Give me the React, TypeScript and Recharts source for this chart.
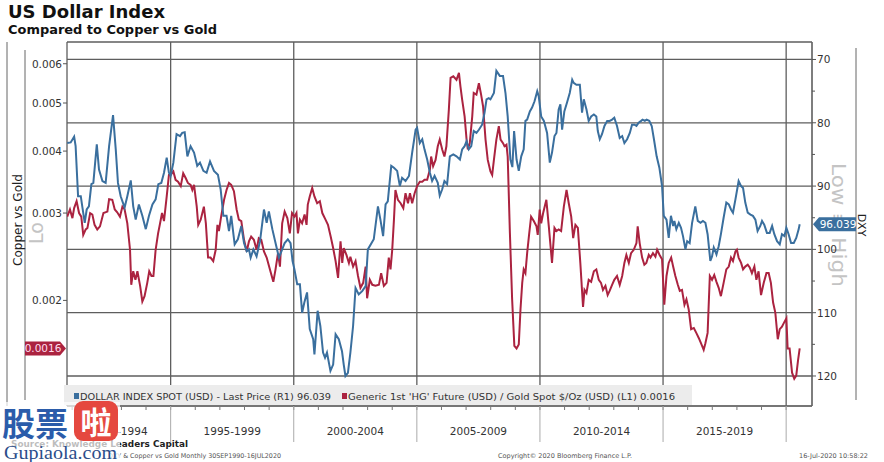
import React from 'react';
import { LineChart, Line, XAxis, YAxis, CartesianGrid } from 'recharts';

const FONT = "'DejaVu Sans', Verdana, sans-serif";
const BLUE = '#3a6f9e';
const RED = '#ab2340';
const LEFT_W = 67;

// ---- DXY (right axis, inverted) ----
const dxyDates = [
  1990.80, 1990.94, 1991.08, 1991.14, 1991.24, 1991.35, 1991.41, 1991.51, 1991.59, 1991.68, 1991.78, 1991.86,
  1992.00, 1992.09, 1992.23, 1992.36, 1992.50, 1992.66, 1992.77, 1992.86, 1992.97, 1993.13, 1993.24, 1993.38,
  1993.48, 1993.58, 1993.71, 1993.85, 1993.99, 1994.12, 1994.26, 1994.39, 1994.50, 1994.62, 1994.73, 1994.84,
  1994.93, 1995.00, 1995.11, 1995.24, 1995.38, 1995.47, 1995.57, 1995.68, 1995.81, 1995.95, 1996.08, 1996.19,
  1996.33, 1996.46, 1996.60, 1996.76, 1996.92, 1997.03, 1997.14, 1997.27, 1997.37, 1997.46, 1997.60, 1997.73,
  1997.87, 1997.98, 1998.09, 1998.18, 1998.25, 1998.36, 1998.49, 1998.63, 1998.79, 1998.90, 1998.99, 1999.13,
  1999.26, 1999.40, 1999.53, 1999.63, 1999.76, 1999.87, 1999.95, 2000.03, 2000.14, 2000.25, 2000.34, 2000.43,
  2000.54, 2000.65, 2000.79, 2000.84, 2000.97, 2001.08, 2001.19, 2001.27, 2001.35, 2001.49, 2001.60, 2001.70,
  2001.83, 2001.96, 2002.03, 2002.10, 2002.20, 2002.30, 2002.41, 2002.51, 2002.64, 2002.78, 2002.92, 2003.01,
  2003.25, 2003.42, 2003.52, 2003.63, 2003.73, 2003.82, 2003.96, 2004.07, 2004.20, 2004.31, 2004.40, 2004.54,
  2004.68, 2004.81, 2004.95, 2005.01, 2005.12, 2005.22, 2005.31, 2005.42, 2005.53, 2005.62, 2005.72, 2005.85,
  2005.93, 2006.03, 2006.12, 2006.23, 2006.34, 2006.48, 2006.61, 2006.75, 2006.84, 2006.94, 2007.02, 2007.11,
  2007.21, 2007.31, 2007.42, 2007.52, 2007.65, 2007.75, 2007.83, 2007.92, 2007.99, 2008.13, 2008.23, 2008.37,
  2008.50, 2008.60, 2008.69, 2008.80, 2008.88, 2008.95, 2009.05, 2009.14, 2009.24, 2009.34, 2009.41, 2009.48,
  2009.59, 2009.68, 2009.78, 2009.89, 2009.95, 2010.05, 2010.16, 2010.29, 2010.40, 2010.49, 2010.59, 2010.67,
  2010.76, 2010.83, 2010.90, 2010.99, 2011.10, 2011.21, 2011.31, 2011.37, 2011.48, 2011.62, 2011.71, 2011.78,
  2011.89, 2011.98, 2012.08, 2012.19, 2012.29, 2012.35, 2012.43, 2012.52, 2012.62, 2012.73, 2012.83, 2012.93,
  2013.02, 2013.13, 2013.24, 2013.34, 2013.43, 2013.54, 2013.65, 2013.74, 2013.84, 2013.92, 2014.01, 2014.11,
  2014.17, 2014.26, 2014.33, 2014.44, 2014.54, 2014.63, 2014.74, 2014.85, 2014.96, 2015.03, 2015.14, 2015.23,
  2015.32, 2015.41, 2015.46, 2015.54, 2015.64, 2015.73, 2015.81, 2015.91, 2015.98, 2016.08, 2016.18, 2016.31,
  2016.41, 2016.52, 2016.62, 2016.72, 2016.81, 2016.92, 2016.99, 2017.06, 2017.17, 2017.26, 2017.35, 2017.46,
  2017.57, 2017.67, 2017.76, 2017.84, 2017.94, 2018.07, 2018.17, 2018.25, 2018.34, 2018.44, 2018.55, 2018.65,
  2018.75, 2018.84, 2018.95, 2019.02, 2019.11, 2019.22, 2019.33, 2019.43, 2019.52, 2019.63, 2019.74, 2019.83,
  2019.93, 2020.01, 2020.10, 2020.20, 2020.31, 2020.41, 2020.51, 2020.55,
];
const dxyValues = [
  83.2, 83.1, 82.2, 83.7, 91.6, 91.6, 93.2, 95.8, 93.7, 93.2, 89.7, 89.5,
  83.4, 87.4, 89.2, 89.5, 83.7, 78.8, 84.2, 89.5, 91.6, 93.4, 91.6, 89.1,
  93.2, 95.3, 92.9, 94.7, 96.8, 94.7, 92.9, 92.1, 89.7, 89.5, 87.9, 85.5,
  87.9, 88.4, 86.3, 81.8, 82.1, 81.6, 81.5, 85.3, 83.7, 84.7, 86.8, 86.3,
  87.6, 87.9, 86.1, 87.6, 88.2, 90.5, 94.7, 94.7, 97.1, 94.7, 99.2, 98.4,
  96.3, 99.0, 100.3, 100.0, 101.3, 100.0, 101.1, 98.7, 93.7, 95.8, 94.0, 96.8,
  99.0, 101.3, 100.0, 99.0, 98.4, 99.0, 101.8, 103.2, 105.5, 105.5, 110.0, 108.4,
  106.8, 112.6, 114.2, 116.6, 109.7, 112.1, 116.3, 117.1, 116.3, 119.2, 118.2, 113.4,
  114.2, 116.1, 118.2, 120.0, 119.5, 116.3, 112.1, 106.1, 107.1, 106.6, 105.8, 100.0,
  98.4, 93.2, 95.3, 97.9, 92.9, 92.4, 86.8, 87.1, 87.6, 90.0, 88.7, 89.2,
  88.4, 84.7, 81.1, 80.8, 83.2, 82.6, 84.2, 85.8, 87.9, 89.2, 88.4, 89.5,
  91.5, 90.5, 89.2, 89.7, 85.3, 85.0, 85.3, 85.8, 84.2, 83.7, 82.9, 84.2,
  83.7, 81.3, 81.6, 81.1, 80.3, 78.4, 76.3, 76.1, 76.3, 75.3, 71.8, 72.6,
  72.6, 75.3, 79.0, 85.8, 87.0, 81.3, 85.8, 87.6, 85.3, 84.2, 79.7, 79.5,
  78.2, 77.6, 76.6, 75.0, 75.8, 79.0, 79.7, 81.6, 86.3, 84.7, 82.1, 81.6,
  77.9, 77.1, 81.1, 78.2, 76.8, 75.3, 73.2, 73.7, 74.0, 74.0, 78.4, 76.3,
  77.9, 79.7, 79.0, 78.7, 79.0, 81.3, 82.6, 81.8, 80.5, 79.7, 79.7, 79.5,
  79.2, 80.5, 82.4, 82.1, 83.2, 82.6, 81.6, 80.3, 80.3, 80.5, 80.0, 79.7,
  79.5, 79.7, 79.5, 79.7, 80.5, 82.6, 85.3, 87.1, 90.0, 94.7, 95.3, 98.2,
  94.7, 96.3, 95.5, 96.8, 95.8, 96.6, 97.9, 100.0, 98.7, 99.0, 95.8, 93.2,
  95.5, 95.8, 95.5, 95.8, 97.6, 101.8, 101.1, 99.7, 100.8, 99.5, 97.6, 95.0,
  92.6, 92.9, 93.7, 94.2, 92.1, 89.2, 90.0, 90.3, 92.6, 94.2, 94.5, 94.7,
  95.3, 97.1, 96.3, 95.5, 96.1, 97.4, 97.4, 96.3, 97.6, 98.7, 99.2, 97.6,
  97.9, 96.6, 97.6, 99.0, 99.0, 98.2, 96.8, 96.039,
];

// ---- Copper / Gold ratio (left axis, log) ----
const cgDates = [
  1990.80, 1990.91, 1991.01, 1991.08, 1991.18, 1991.28, 1991.37, 1991.45, 1991.55, 1991.62, 1991.73, 1991.82,
  1991.91, 1992.02, 1992.13, 1992.27, 1992.43, 1992.50, 1992.63, 1992.73, 1992.83, 1992.94, 1993.04, 1993.13,
  1993.24, 1993.35, 1993.40, 1993.48, 1993.57, 1993.65, 1993.76, 1993.85, 1993.94, 1994.05, 1994.13, 1994.22,
  1994.30, 1994.39, 1994.49, 1994.57, 1994.65, 1994.73, 1994.84, 1994.93, 1995.00, 1995.11, 1995.20, 1995.30,
  1995.41, 1995.51, 1995.61, 1995.70, 1995.81, 1995.88, 1995.95, 1996.06, 1996.12, 1996.22, 1996.35, 1996.43,
  1996.52, 1996.62, 1996.73, 1996.83, 1996.90, 1996.96, 1997.05, 1997.17, 1997.27, 1997.37, 1997.46, 1997.57,
  1997.68, 1997.77, 1997.87, 1997.98, 1998.09, 1998.18, 1998.27, 1998.38, 1998.49, 1998.58, 1998.68, 1998.79,
  1998.90, 1999.03, 1999.17, 1999.26, 1999.36, 1999.44, 1999.53, 1999.63, 1999.74, 1999.84, 1999.93, 2000.03,
  2000.11, 2000.17, 2000.25, 2000.34, 2000.44, 2000.52, 2000.57, 2000.65, 2000.75, 2000.84, 2000.95, 2001.06,
  2001.16, 2001.29, 2001.39, 2001.50, 2001.60, 2001.70, 2001.80, 2001.90, 2001.97, 2002.03, 2002.14, 2002.24,
  2002.30, 2002.41, 2002.51, 2002.61, 2002.71, 2002.82, 2002.92, 2002.98, 2003.09, 2003.19, 2003.32, 2003.46,
  2003.55, 2003.66, 2003.77, 2003.86, 2003.93, 2004.00, 2004.07, 2004.13, 2004.23, 2004.34, 2004.45, 2004.54,
  2004.64, 2004.72, 2004.81, 2004.91, 2005.01, 2005.12, 2005.22, 2005.31, 2005.42, 2005.53, 2005.58, 2005.66,
  2005.76, 2005.85, 2005.93, 2006.03, 2006.12, 2006.20, 2006.30, 2006.37, 2006.48, 2006.61, 2006.71, 2006.77,
  2006.84, 2006.94, 2007.02, 2007.07, 2007.15, 2007.25, 2007.31, 2007.42, 2007.52, 2007.61, 2007.69, 2007.79,
  2007.88, 2007.99, 2008.06, 2008.13, 2008.23, 2008.33, 2008.40, 2008.50, 2008.56, 2008.64, 2008.69, 2008.78,
  2008.87, 2008.96, 2009.05, 2009.14, 2009.21, 2009.28, 2009.34, 2009.41, 2009.48, 2009.55, 2009.64, 2009.75,
  2009.86, 2009.91, 2009.99, 2010.05, 2010.13, 2010.26, 2010.36, 2010.49, 2010.59, 2010.67, 2010.76, 2010.86,
  2010.97, 2011.08, 2011.17, 2011.27, 2011.35, 2011.44, 2011.54, 2011.64, 2011.75, 2011.81, 2011.89, 2011.98,
  2012.08, 2012.19, 2012.29, 2012.39, 2012.48, 2012.56, 2012.66, 2012.75, 2012.83, 2012.93, 2013.02, 2013.13,
  2013.24, 2013.34, 2013.43, 2013.51, 2013.61, 2013.70, 2013.81, 2013.92, 2013.97, 2014.05, 2014.15, 2014.24,
  2014.32, 2014.42, 2014.49, 2014.59, 2014.69, 2014.76, 2014.86, 2014.96, 2015.05, 2015.14, 2015.23, 2015.33,
  2015.41, 2015.50, 2015.60, 2015.68, 2015.77, 2015.87, 2015.95, 2016.04, 2016.14, 2016.25, 2016.35, 2016.45,
  2016.54, 2016.65, 2016.72, 2016.81, 2016.90, 2016.99, 2017.08, 2017.17, 2017.26, 2017.35, 2017.46, 2017.57,
  2017.67, 2017.76, 2017.84, 2017.94, 2018.00, 2018.07, 2018.17, 2018.25, 2018.34, 2018.44, 2018.52, 2018.61,
  2018.71, 2018.79, 2018.88, 2018.98, 2019.09, 2019.20, 2019.29, 2019.38, 2019.47, 2019.56, 2019.66, 2019.74,
  2019.83, 2019.93, 2020.01, 2020.06, 2020.14, 2020.24, 2020.33, 2020.41, 2020.48, 2020.55,
];
const cgValues = [
  0.00295, 0.00305, 0.00293, 0.00307, 0.00317, 0.00300, 0.00295, 0.00271, 0.00278, 0.00280, 0.00300, 0.00298,
  0.00284, 0.00278, 0.00282, 0.00300, 0.00302, 0.00320, 0.00319, 0.00305, 0.00301, 0.00295, 0.00309, 0.00305,
  0.00286, 0.00253, 0.00215, 0.00229, 0.00220, 0.00229, 0.00214, 0.00199, 0.00204, 0.00217, 0.00229, 0.00224,
  0.00224, 0.00253, 0.00273, 0.00286, 0.00300, 0.00289, 0.00324, 0.00358, 0.00358, 0.00364, 0.00350, 0.00347,
  0.00340, 0.00361, 0.00353, 0.00345, 0.00342, 0.00334, 0.00342, 0.00309, 0.00284, 0.00291, 0.00309, 0.00286,
  0.00244, 0.00244, 0.00240, 0.00253, 0.00284, 0.00276, 0.00295, 0.00319, 0.00334, 0.00345, 0.00342, 0.00332,
  0.00305, 0.00291, 0.00289, 0.00265, 0.00251, 0.00263, 0.00269, 0.00265, 0.00253, 0.00267, 0.00265, 0.00251,
  0.00244, 0.00231, 0.00218, 0.00231, 0.00249, 0.00234, 0.00286, 0.00302, 0.00293, 0.00273, 0.00300, 0.00295,
  0.00300, 0.00273, 0.00291, 0.00286, 0.00298, 0.00284, 0.00312, 0.00324, 0.00337, 0.00324, 0.00314, 0.00317,
  0.00300, 0.00291, 0.00284, 0.00269, 0.00255, 0.00240, 0.00222, 0.00263, 0.00238, 0.00255, 0.00247, 0.00238,
  0.00245, 0.00234, 0.00240, 0.00224, 0.00212, 0.00217, 0.00234, 0.00202, 0.00220, 0.00215, 0.00214, 0.00215,
  0.00227, 0.00214, 0.00217, 0.00244, 0.00231, 0.00253, 0.00291, 0.00334, 0.00319, 0.00314, 0.00307, 0.00329,
  0.00314, 0.00329, 0.00314, 0.00329, 0.00340, 0.00347, 0.00347, 0.00350, 0.00350, 0.00367, 0.00390, 0.00373,
  0.00384, 0.00409, 0.00422, 0.00403, 0.00390, 0.00409, 0.00485, 0.00562, 0.00566, 0.00557, 0.00575, 0.00540,
  0.00508, 0.00470, 0.00422, 0.00403, 0.00415, 0.00470, 0.00524, 0.00520, 0.00548, 0.00520, 0.00492, 0.00422,
  0.00384, 0.00364, 0.00358, 0.00384, 0.00422, 0.00449, 0.00422, 0.00415, 0.00409, 0.00412, 0.00390, 0.00273,
  0.00201, 0.00162, 0.00160, 0.00163, 0.00192, 0.00217, 0.00231, 0.00227, 0.00249, 0.00269, 0.00295, 0.00289,
  0.00282, 0.00271, 0.00305, 0.00286, 0.00300, 0.00319, 0.00282, 0.00238, 0.00280, 0.00276, 0.00278, 0.00276,
  0.00309, 0.00334, 0.00314, 0.00295, 0.00267, 0.00284, 0.00280, 0.00238, 0.00194, 0.00210, 0.00207, 0.00220,
  0.00218, 0.00229, 0.00231, 0.00220, 0.00217, 0.00210, 0.00214, 0.00205, 0.00209, 0.00215, 0.00220, 0.00224,
  0.00215, 0.00224, 0.00238, 0.00247, 0.00238, 0.00249, 0.00253, 0.00261, 0.00282, 0.00261, 0.00244, 0.00236,
  0.00238, 0.00247, 0.00244, 0.00249, 0.00245, 0.00253, 0.00247, 0.00242, 0.00196, 0.00224, 0.00238, 0.00244,
  0.00234, 0.00224, 0.00215, 0.00209, 0.00210, 0.00196, 0.00201, 0.00192, 0.00175, 0.00176, 0.00172, 0.00168,
  0.00164, 0.00159, 0.00164, 0.00172, 0.00224, 0.00220, 0.00225, 0.00218, 0.00212, 0.00204, 0.00217, 0.00231,
  0.00234, 0.00244, 0.00240, 0.00251, 0.00253, 0.00244, 0.00238, 0.00231, 0.00234, 0.00236, 0.00233, 0.00227,
  0.00234, 0.00220, 0.00229, 0.00205, 0.00217, 0.00227, 0.00227, 0.00217, 0.00198, 0.00189, 0.00167, 0.00175,
  0.00177, 0.00181, 0.00184, 0.00160, 0.00160, 0.00143, 0.00139, 0.00141, 0.00151, 0.00160,
];

// ---- axes / labels ----
const periodLabels = ['1990-1994', '1995-1999', '2000-2004', '2005-2009', '2010-2014', '2015-2019'];
const periodCenters = [1992.9, 1997.5, 2002.5, 2007.5, 2012.5, 2017.5];
const yearTicks = [1991, 1992, 1993, 1994, 1995, 1996, 1997, 1998, 1999, 2000, 2001, 2002, 2003, 2004, 2005,
  2006, 2007, 2008, 2009, 2010, 2011, 2012, 2013, 2014, 2015, 2016, 2017, 2018, 2019, 2020];
const gridYears = [1995, 2000, 2005, 2010, 2015, 2020];
const dxyTicks = [70, 80, 90, 100, 110, 120];
const dxyMinorTicks = [75, 85, 95, 105, 115];
const cgTicks = [0.002, 0.003, 0.004, 0.005, 0.006];

const X_DOMAIN = [1990.79, 2021.05];
const DXY_DOMAIN = [67.24, 124.74];
const CG_DOMAIN = [0.001225, 0.006637];

const dxyData = dxyDates.map((t, i) => ({ t, v: dxyValues[i] }));
const cgData = cgDates.map((t, i) => ({ t, v: cgValues[i] }));
const lastDxy = dxyValues[dxyValues.length - 1];
const lastCg = cgValues[cgValues.length - 1];

const XTick = (props: any) => {
  const { x, y, payload } = props;
  const v = payload.value;
  const idx = periodCenters.indexOf(v);
  if (idx >= 0) {
    return (
      <text x={x} y={y + 29} textAnchor="middle" fontSize={10.5} fill="#333" fontFamily={FONT}>
        {periodLabels[idx]}
      </text>
    );
  }
  return (
    <g>
      <line x1={x} x2={x} y1={y} y2={y + 4} stroke="#777" strokeWidth={1} />
      {v % 5 === 0 && <line x1={x} x2={x} y1={y} y2={y + 36} stroke="#aaa" strokeWidth={1} />}
    </g>
  );
};

const RightTick = (props: any) => {
  const { x, y, payload } = props;
  const v = payload.value;
  if (v === lastDxy) {
    return (
      <g>
        <path d={`M${x + 1},${y} L${x + 7},${y - 7} H${x + 44} V${y + 7} H${x + 7} Z`} fill={BLUE} />
        <text x={x + 26} y={y + 4} textAnchor="middle" fontSize={10.5} fill="#fff" fontFamily={FONT}>
          {lastDxy.toFixed(3)}
        </text>
      </g>
    );
  }
  if (dxyMinorTicks.indexOf(v) >= 0) {
    return <line x1={x} x2={x + 3} y1={y} y2={y} stroke="#555" />;
  }
  return (
    <g>
      <line x1={x} x2={x + 4} y1={y} y2={y} stroke="#555" />
      <text x={x + 5} y={y + 4} textAnchor="start" fontSize={10.5} fill="#333" fontFamily={FONT}>{v}</text>
    </g>
  );
};

const LeftTick = (props: any) => {
  const { y, payload } = props;
  const x = LEFT_W;
  const v = payload.value;
  if (v === lastCg) {
    return (
      <g>
        <path d={`M${x - 1},${y} L${x - 7},${y - 7} H${x - 42} V${y + 7} H${x - 7} Z`} fill={RED} />
        <text x={x - 24} y={y + 4} textAnchor="middle" fontSize={10.5} fill="#fde" fontFamily={FONT}>
          {lastCg.toFixed(4)}
        </text>
      </g>
    );
  }
  return (
    <g>
      <line x1={x - 4} x2={x} y1={y} y2={y} stroke="#555" />
      <text x={x - 5} y={y + 4} textAnchor="end" fontSize={10.5} fill="#333" fontFamily={FONT}>{v.toFixed(3)}</text>
    </g>
  );
};

export default function App() {
  return (
    <div style={{ position: 'absolute', left: 0, top: 0, width: 884, height: 462, background: '#fff', overflow: 'hidden' }}>
      {/* background annotations */}
      <svg width={884} height={462} style={{ position: 'absolute', left: 0, top: 0 }}>
        <text x={8} y={18} fontSize={17} fontWeight="bold" fill="#111" fontFamily={FONT} textLength={157} lengthAdjust="spacingAndGlyphs">US Dollar Index</text>
        <text x={8} y={34} fontSize={12.5} fontWeight="bold" fill="#111" fontFamily={FONT} textLength={209} lengthAdjust="spacingAndGlyphs">Compared to Copper vs Gold</text>
        <line x1={25} x2={25} y1={50} y2={400} stroke="#666" strokeWidth={1} />
        <text transform="translate(22,220) rotate(-90)" textAnchor="middle" fontSize={12} fill="#222" fontFamily={FONT}>Copper vs Gold</text>
        <text transform="translate(43,244) rotate(-90)" textAnchor="start" fontSize={19} fill="#c4c4c4" fontFamily={FONT}>Lo</text>
        <line x1={856} x2={856} y1={48} y2={400} stroke="#666" strokeWidth={1} />
        <text transform="translate(858,225) rotate(90)" textAnchor="middle" fontSize={11} fill="#222" fontFamily={FONT}>DXY</text>
        <text transform="translate(832,225) rotate(90)" textAnchor="middle" fontSize={19} fill="#c4c4c4" fontFamily={FONT} textLength={124} lengthAdjust="spacingAndGlyphs">Low ≡ High</text>
        <text x={11} y={447} fontSize={9} fontWeight="bold" fill="#222" fontFamily={FONT} textLength={177} lengthAdjust="spacingAndGlyphs">Source: Knowledge Leaders Capital</text>
        <text x={108} y={458} fontSize={6.5} fill="#555" fontFamily={FONT} textLength={173} lengthAdjust="spacingAndGlyphs">DXY &amp; Copper vs Gold  Monthly 30SEP1990-16JUL2020</text>
        <text x={565} y={458} textAnchor="middle" fontSize={6.5} fill="#555" fontFamily={FONT}>Copyright© 2020 Bloomberg Finance L.P.</text>
        <text x={868} y={458} textAnchor="end" fontSize={6.5} fill="#555" fontFamily={FONT}>16-Jul-2020 10:58:22</text>
      </svg>

      <div style={{ position: 'absolute', left: 0, top: 0 }}>
        <LineChart width={884} height={462} margin={{ top: 42, right: 0, bottom: 0, left: 0 }}>
          <XAxis xAxisId="g" type="number" dataKey="t" domain={X_DOMAIN} allowDataOverflow ticks={gridYears} hide />
          <YAxis yAxisId="g" type="number" domain={DXY_DOMAIN} reversed allowDataOverflow ticks={dxyTicks} hide />
          <CartesianGrid xAxisId="g" yAxisId="g" stroke="#5e5e5e" strokeWidth={1.3} />
          <XAxis
            type="number"
            dataKey="t"
            domain={X_DOMAIN}
            allowDataOverflow
            ticks={[...yearTicks, ...periodCenters]}
            interval={0}
            tick={<XTick />}
            tickLine={false}
            tickSize={0}
            tickMargin={0}
            height={56}
            axisLine={{ stroke: '#666' }}
          />
          <YAxis
            yAxisId="left"
            orientation="left"
            type="number"
            scale="log"
            domain={CG_DOMAIN}
            allowDataOverflow
            ticks={[...cgTicks, lastCg]}
            interval={0}
            tick={<LeftTick />}
            tickLine={false}
            tickSize={0}
            tickMargin={0}
            width={LEFT_W}
            axisLine={{ stroke: '#666' }}
          />
          <YAxis
            yAxisId="right"
            orientation="right"
            type="number"
            domain={DXY_DOMAIN}
            reversed
            allowDataOverflow
            ticks={[...dxyTicks, ...dxyMinorTicks, lastDxy]}
            interval={0}
            tick={<RightTick />}
            tickLine={false}
            tickSize={0}
            tickMargin={0}
            width={72}
            axisLine={{ stroke: '#666' }}
          />
          <Line data={cgData} dataKey="v" yAxisId="left" type="linear" stroke={RED} strokeWidth={2} dot={false} isAnimationActive={false} />
          <Line data={dxyData} dataKey="v" yAxisId="right" type="linear" stroke={BLUE} strokeWidth={2} dot={false} isAnimationActive={false} />
        </LineChart>
      </div>

      {/* legend and watermark */}
      <svg width={884} height={462} style={{ position: 'absolute', left: 0, top: 0, pointerEvents: 'none' }}>
        <rect x={64} y={385} width={628} height={20} fill="#ececec" />
        <rect x={74} y={393} width={5} height={6} fill={BLUE} />
        <text x={80} y={400} fontSize={9.5} fill="#333" fontFamily={FONT} textLength={251} lengthAdjust="spacingAndGlyphs">
          {`DOLLAR INDEX SPOT (USD) - Last Price (R1) ${lastDxy.toFixed(3)}`}
        </text>
        <rect x={342} y={393} width={5} height={6} fill={RED} />
        <text x={348} y={400} fontSize={9.5} fill="#333" fontFamily={FONT} textLength={327} lengthAdjust="spacingAndGlyphs">
          {`Generic 1st 'HG' Future (USD) / Gold Spot $/Oz (USD) (L1) ${lastCg.toFixed(4)}`}
        </text>

        <rect x={0} y={402} width={120} height={60} fill="#fff" opacity={0.7} />
        <text x={2} y={436} fontSize={33} fontWeight="bold" fill="#2b5caa" fontFamily="'Noto Sans CJK SC', sans-serif">股票</text>
        <rect x={74} y={401} width={44} height={40} rx={9} fill="#e5483f" />
        <text x={96} y={434} textAnchor="middle" fontSize={31} fontWeight="bold" fill="#fff" fontFamily="'Noto Sans CJK SC', sans-serif">啦</text>
        <text x={4} y={459} fontSize={19} fill="#2b4d8a" fontFamily="'Liberation Serif', serif" textLength={113} lengthAdjust="spacingAndGlyphs">Gupiaola.com</text>
      </svg>
    </div>
  );
}
